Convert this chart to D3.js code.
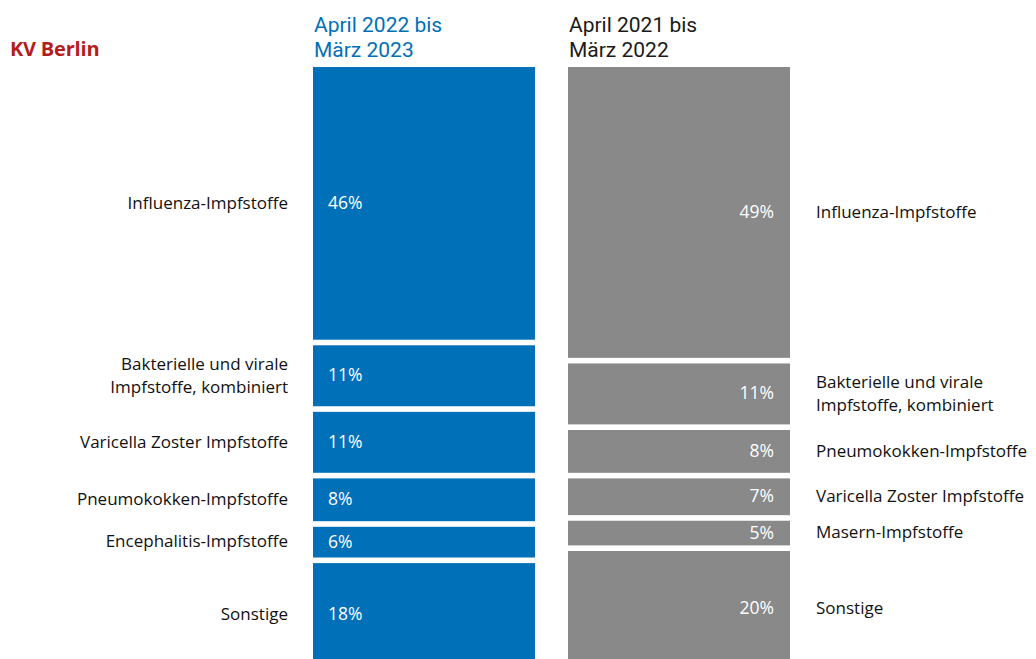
<!DOCTYPE html>
<html><head><meta charset="utf-8">
<script src="https://cdn.jsdelivr.net/npm/d3@7"></script>
<style>
html,body{margin:0;padding:0;background:#fff;}
svg{display:block;font-family:"Open Sans",sans-serif;}
</style></head>
<body><svg id="c" width="1036" height="659"></svg>
<script>
const regionTitle = "KV Berlin";
const periods = ["April 2022 bis|März 2023", "April 2021 bis|März 2022"];
const categories2023 = ["Influenza-Impfstoffe", "Bakterielle und virale|Impfstoffe, kombiniert", "Varicella Zoster Impfstoffe", "Pneumokokken-Impfstoffe", "Encephalitis-Impfstoffe", "Sonstige"];
const values2023 = [46, 11, 11, 8, 6, 18];
const categories2022 = ["Influenza-Impfstoffe", "Bakterielle und virale|Impfstoffe, kombiniert", "Pneumokokken-Impfstoffe", "Varicella Zoster Impfstoffe", "Masern-Impfstoffe", "Sonstige"];
const values2022 = [49, 11, 8, 7, 5, 20];

const svg = d3.select("#c");
const blue = "#0070b8", gray = "#898989", red = "#b51d1d";
const gap = 5.6;
const y = d3.scaleLinear().domain([0, 100]).range([67, 672]);
const x = d3.scaleBand().domain([0, 1]).range([313, 790]).paddingInner(0.1294);

function stack(vals, cats) {
  let c = 0;
  return vals.map((v, i) => { const d = {v, cat: cats[i], y0: c, y1: c + v}; c += v; return d; });
}
const series = [
  {data: stack(values2023, categories2023), color: blue, titleColor: blue, side: "left"},
  {data: stack(values2022, categories2022), color: gray, titleColor: "#1a1a1a", side: "right"}
];

svg.append("text").attr("x", 10).attr("y", 56).attr("fill", red)
  .attr("font-size", 20).attr("font-weight", "bold").attr("letter-spacing", -0.2).text(regionTitle);

series.forEach((s, si) => {
  const bx = x(si), bw = x.bandwidth();
  periods[si].split("|").forEach((ln, li) =>
    svg.append("text").attr("x", bx + 1).attr("y", 32 + li * 25)
      .attr("fill", s.titleColor).attr("font-size", 21)
      .attr("font-family", "Roboto, sans-serif").text(ln));

  const g = svg.append("g");
  g.selectAll("rect").data(s.data).join("rect")
    .attr("x", bx).attr("width", bw)
    .attr("y", d => y(d.y0))
    .attr("height", d => y(d.y1) - y(d.y0) - gap)
    .attr("fill", s.color);

  const mid = d => (y(d.y0) + Math.min(y(d.y1) - gap, 666)) / 2;
  g.selectAll("text.pct").data(s.data).join("text").attr("class", "pct")
    .attr("x", s.side === "left" ? bx + 15 : bx + bw - 16)
    .attr("text-anchor", s.side === "left" ? "start" : "end")
    .attr("y", d => mid(d) - 0.8).attr("dy", "0.36em")
    .attr("fill", "#fff").attr("font-size", 17.5)
    .text(d => d.v + "%");

  g.selectAll("text.cat").data(s.data).join("text").attr("class", "cat")
    .attr("font-size", 17).attr("fill", "#111")
    .attr("text-anchor", s.side === "left" ? "end" : "start")
    .each(function(d) {
      const lines = d.cat.split("|");
      const lx = s.side === "left" ? bx - 25 : bx + bw + 26;
      const sel = d3.select(this);
      const lh = 23;
      lines.forEach((ln, li) => {
        sel.append("tspan").attr("x", lx)
          .attr("y", mid(d) - 0.8 + (li - (lines.length - 1) / 2) * lh)
          .attr("dy", "0.36em").text(ln);
      });
    });
});
</script></body></html>
